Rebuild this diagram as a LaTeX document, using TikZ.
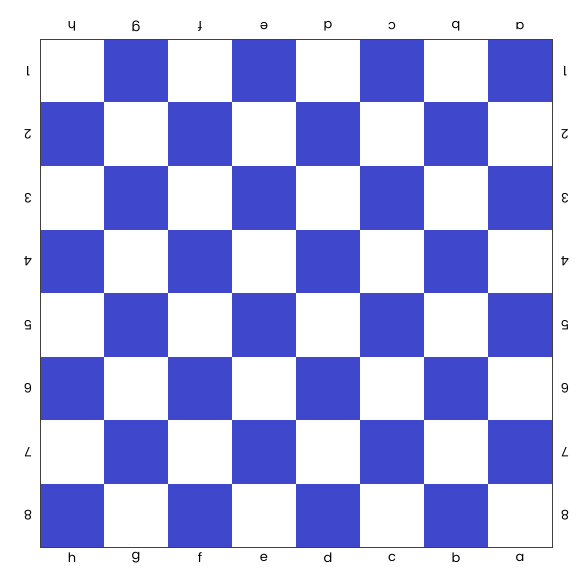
\documentclass[tikz,border=0pt]{standalone}
\usepackage{fontspec}
\setmainfont{Poppins}
\definecolor{sqblue}{RGB}{63,72,204}
\begin{document}
\begin{tikzpicture}[x=1pt,y=-1pt,
  lbl/.style={font=\fontsize{13}{15}\selectfont, inner sep=0pt},
  flip/.style={lbl, rotate=180}]
\useasboundingbox (0,0) rectangle (586,588);
\fill[white] (0,0) rectangle (586,588);
\foreach \i in {0,...,7}{
  \foreach \j in {0,...,7}{
    \pgfmathtruncatemacro{\myparity}{mod(\i+\j,2)}
    \ifnum\myparity=1
      \fill[sqblue] ({40+64*\i},{39+63.5*\j}) rectangle ({40+64*(\i+1)},{39+63.5*(\j+1)});
    \fi
  }
}
\node[draw=black!75, line width=0.6pt, minimum width=512pt, minimum height=508pt, inner sep=0pt, anchor=north west] (board) at (40,39) {};
\foreach \l [count=\k from 0] in {h,g,f,e,d,c,b,a}{
  \node[flip] (t\l) at ({72+64*\k},26) {\l};
  \node[lbl] (b\l) at ({72+64*\k},558) {\l};
}
\foreach \n [count=\k from 0] in {1,...,8}{
  \node[flip] (l\n) at (28,{71+63.5*\k}) {\n};
  \node[flip] (r\n) at (565,{71+63.5*\k}) {\n};
}
\end{tikzpicture}
\end{document}
